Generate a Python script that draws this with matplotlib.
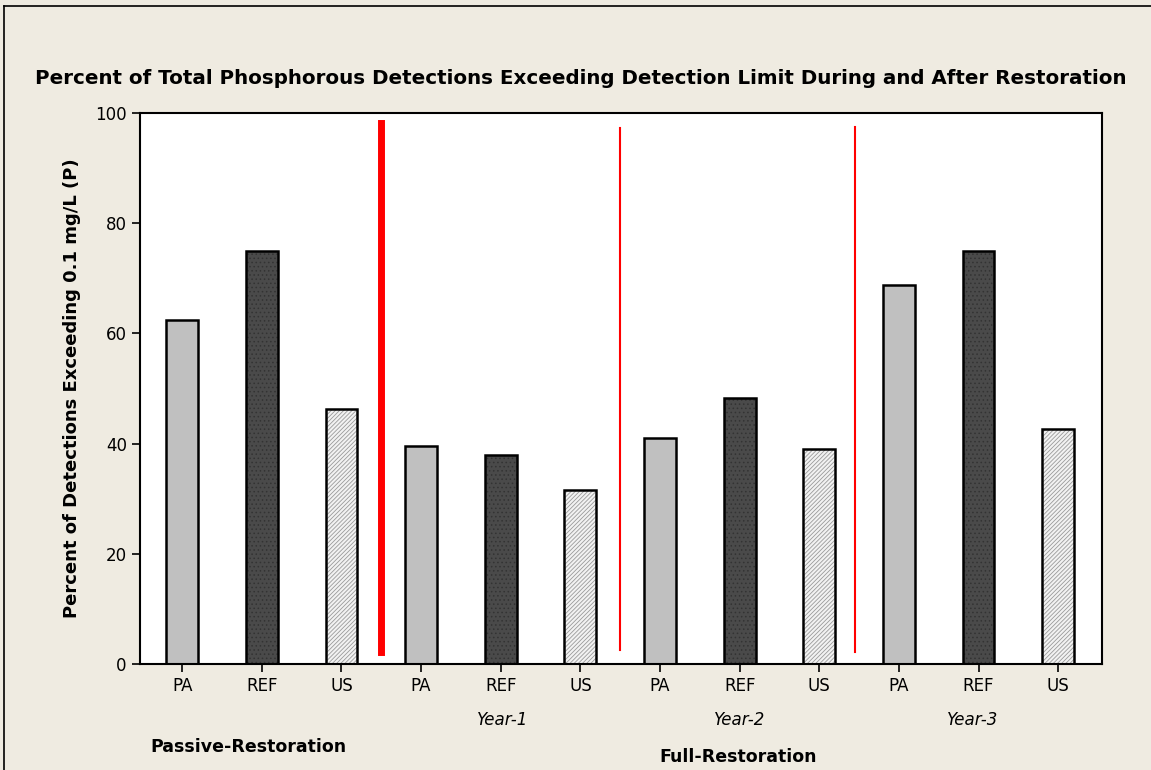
import matplotlib
matplotlib.use("Agg")
import matplotlib.pyplot as plt
from matplotlib.lines import Line2D

sites = ["PA", "REF", "US"] * 4
values = [62.5, 75.0, 46.2, 39.5, 38.0, 31.5, 41.0, 48.2, 39.1, 68.8, 75.0, 42.7]
years = ["Year-1", "Year-2", "Year-3"]
phases = ["Passive-Restoration", "Full-Restoration"]

plt.rcParams["hatch.linewidth"] = 0.6

bg = "#efebe1"
fig = plt.figure(figsize=(11.51, 7.70), dpi=100, facecolor=bg)
ax = fig.add_axes([140/1151, 1-664/770, 962/1151, 551/770])

x = list(range(len(values)))
for i, v in enumerate(values):
    s = sites[i]
    if s == "PA":
        ax.bar(i, v, width=0.4, color="#c0c0c0", linewidth=0)
    elif s == "REF":
        ax.bar(i, v, width=0.4, color="#4a4a4a", edgecolor="#333333", linewidth=0,
               hatch="....")
    else:
        ax.bar(i, v, width=0.4, color="#f2f2f2", edgecolor="#9a9a9a", linewidth=0,
               hatch="////////")
    # black outline
    ax.bar(i, v, width=0.4, fill=False, edgecolor="black", linewidth=1.8)

# separators
ax.plot([2.5, 2.5], [2.2, 98.2], color="red", linewidth=5)
ax.plot([5.5, 5.5], [2.5, 97.3], color="red", linewidth=1.5)
ax.plot([8.45, 8.45], [2.2, 97.5], color="red", linewidth=1.5)

ax.set_xlim(-0.53, 11.55)
ax.set_ylim(0, 100)
ax.set_xticks(x)
ax.set_xticklabels(sites, fontsize=12)
ax.set_yticks([0, 20, 40, 60, 80, 100])
ax.tick_params(axis="y", labelsize=12, length=6, width=1.2)
ax.tick_params(axis="x", length=6, width=1.2)
for sp in ax.spines.values():
    sp.set_linewidth(1.5)

ax.set_ylabel("Percent of Detections Exceeding 0.1 mg/L (P)", fontsize=13,
              fontweight="bold", labelpad=10)
fig.text(581/1151, 1-78/770,
         "Percent of Total Phosphorous Detections Exceeding Detection Limit During and After Restoration",
         ha="center", va="center", fontsize=14.3, fontweight="bold")

year_x = [503, 740, 973]
for yx, lab in zip(year_x, years):
    fig.text(yx/1151, 1-720/770, lab, ha="center", va="center", fontsize=12, style="italic")
fig.text(248/1151, 1-747/770, phases[0], ha="center", va="center", fontsize=12.5, fontweight="bold")
fig.text(738/1151, 1-757/770, phases[1], ha="center", va="center", fontsize=12.5, fontweight="bold")

# outer frame (top and left edges only visible)
fig.add_artist(Line2D([4/1151, 4/1151], [0, 1-6/770], transform=fig.transFigure,
                      color="black", linewidth=1.2))
fig.add_artist(Line2D([4/1151, 1], [1-6/770, 1-6/770], transform=fig.transFigure,
                      color="black", linewidth=1.2))

fig.savefig("out.png", dpi=100, facecolor=bg)
